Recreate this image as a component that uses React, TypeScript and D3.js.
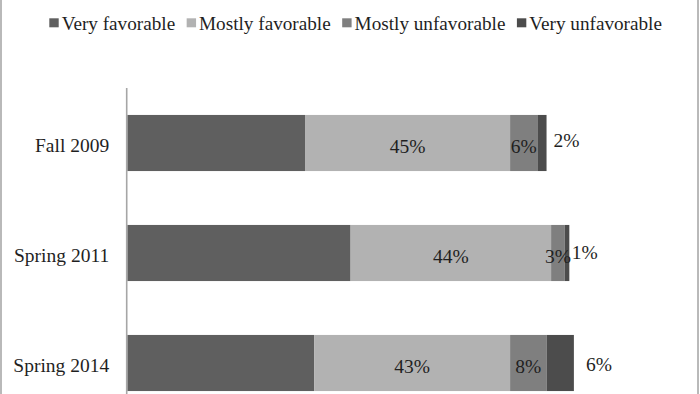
import React, { useEffect, useRef } from 'react'
import * as d3 from 'd3'

const categories = ['Fall 2009', 'Spring 2011', 'Spring 2014']
const seriesNames = ['Very favorable', 'Mostly favorable', 'Mostly unfavorable', 'Very unfavorable']
const veryFavorable = [39, 49, 41]
const mostlyFavorable = [45, 44, 43]
const mostlyUnfavorable = [6, 3, 8]
const veryUnfavorable = [2, 1, 6]
const colors = ['#5f5f5f', '#b2b2b2', '#7f7f7f', '#4c4c4c']

// hand placed "very unfavorable" labels sit right of the bar (px nudges)
const outsideLabelNudge = [
  { dx: 7, dy: 3.7 },
  { dx: 2.5, dy: 6.3 },
  { dx: 12, dy: 7.7 },
]

export default function App() {
  const ref = useRef<SVGSVGElement>(null)

  useEffect(() => {
    const svg = d3.select(ref.current)
    svg.selectAll('*').remove()
    const height = 394
    const font = '"Liberation Serif", "Times New Roman", serif'
    const fs = 19.5

    // chart frame (top and bottom are cropped off)
    svg.append('rect')
      .attr('x', 1).attr('y', -10)
      .attr('width', 697).attr('height', height + 20)
      .attr('fill', 'white').attr('stroke', '#a3a3a3').attr('stroke-width', 1.5)

    const x = d3.scaleLinear().domain([0, 100]).range([127.3, 583])
    const y = d3.scaleBand().domain(categories).range([88, 418])
      .paddingInner(0.49).paddingOuter(0.245)

    const rows = categories.map((c, i) => ({
      cat: c,
      vals: [veryFavorable[i], mostlyFavorable[i], mostlyUnfavorable[i], veryUnfavorable[i]],
    }))
    const stacked = d3.stack<any, number>()
      .keys([0, 1, 2, 3])
      .value((d, k) => d.vals[k])(rows)

    const layers = svg.append('g').selectAll('g')
      .data(stacked)
      .join('g')
      .attr('fill', (_, i) => colors[i])

    layers.selectAll('rect')
      .data(d => d)
      .join('rect')
      .attr('x', d => x(d[0]))
      .attr('y', d => y(d.data.cat)!)
      .attr('width', d => x(d[1]) - x(d[0]))
      .attr('height', y.bandwidth())

    // labels inside bars (mostly favorable, mostly unfavorable)
    const lbl = svg.append('g')
      .attr('font-family', font).attr('font-size', fs).attr('fill', '#1f1f1f')
    ;[1, 2].forEach(k => {
      lbl.selectAll(null)
        .data(stacked[k])
        .join('text')
        .attr('x', d => (x(d[0]) + x(d[1])) / 2)
        .attr('y', d => y(d.data.cat)! + y.bandwidth() / 2 + 9.6)
        .attr('text-anchor', 'middle')
        .text(d => d.data.vals[k] + '%')
    })
    lbl.selectAll(null)
      .data(stacked[3])
      .join('text')
      .attr('x', (d, i) => x(d[1]) + outsideLabelNudge[i].dx)
      .attr('y', (d, i) => y(d.data.cat)! + y.bandwidth() / 2 + outsideLabelNudge[i].dy)
      .text(d => d.data.vals[3] + '%')

    // category axis
    const axis = svg.append('g').attr('transform', `translate(${x(0) - 0.6},0)`)
      .call(d3.axisLeft(y).tickSize(0).tickPadding(17.5))
    axis.select('.domain').attr('stroke', '#a6a6a6').attr('stroke-width', 1.6)
      .attr('d', `M0,88V${height + 10}`)
    axis.selectAll('text')
      .attr('font-family', font).attr('font-size', fs).attr('fill', '#1f1f1f')
      .attr('dy', 8.7)

    // legend
    const legend = svg.append('g').attr('font-family', font).attr('font-size', 19.2)
    let lx = 49.3
    seriesNames.forEach((name, i) => {
      legend.append('rect')
        .attr('x', lx).attr('y', 18.3).attr('width', 9.4).attr('height', 9)
        .attr('fill', colors[i])
      const t = legend.append('text')
        .attr('x', lx + 12.4).attr('y', 30)
        .attr('fill', '#1f1f1f')
        .text(name)
      const w = (t.node() as SVGTextElement).getComputedTextLength()
      lx = lx + 12.4 + w + 11.5
    })
  }, [])

  return (
    <svg ref={ref} width={700} height={394}
      style={{ position: 'absolute', left: 0, top: 0, background: 'white' }} />
  )
}
